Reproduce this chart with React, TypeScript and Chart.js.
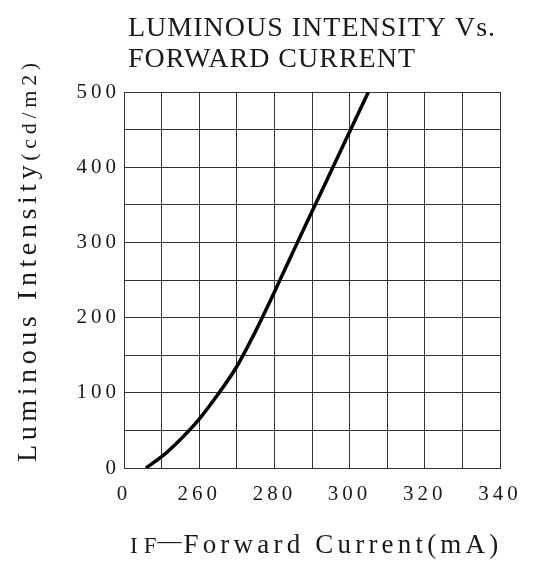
import React, { useEffect, useRef } from 'react';
import { Chart, registerables } from 'chart.js';

Chart.register(...registerables);

// Data
const currentMA = [245.8, 250, 255, 260, 265, 270, 275, 280, 285, 290, 295, 300, 305];
const intensity = [0, 15, 38, 65, 98, 135, 182, 234, 288, 341, 394, 447, 500];

// Axis ticks (the x axis is broken: its first label reads "0")
const xTickValues = [240, 260, 280, 300, 320, 340];
const xTickLabels = ['0', '260', '280', '300', '320', '340'];
const yTickValues = [0, 100, 200, 300, 400, 500];
const yTickLabels = ['0', '100', '200', '300', '400', '500'];

// Texts
const titleLines = ['LUMINOUS INTENSITY Vs.', 'FORWARD CURRENT'];
const yTitleMain = 'Luminous Intensity';
const yTitleUnit = '(cd/m2)';
const xTitleSymbol = 'IF';
const xTitleDash = '—';
const xTitleMain = 'Forward Current(mA)';

const FONT = '"Liberation Serif", "DejaVu Serif", serif';
const INK = '#1a1a1a';

const textPlugin = {
  id: 'plotterText',
  beforeDraw(chart: any) {
    (chart.ctx as any).letterSpacing = '4px';
  },
  afterDraw(chart: any) {
    const ctx = chart.ctx as any;
    ctx.save();
    ctx.fillStyle = INK;
    ctx.textAlign = 'left';
    ctx.textBaseline = 'alphabetic';

    // Title
    ctx.font = `28px ${FONT}`;
    ctx.letterSpacing = '1px';
    ctx.fillText(titleLines[0], 128, 36);
    ctx.fillText(titleLines[1], 128, 67);

    // X axis title
    let x = 130;
    const base = 553;
    ctx.font = `23px ${FONT}`;
    ctx.letterSpacing = '6px';
    ctx.fillText(xTitleSymbol, x, base);
    x += ctx.measureText(xTitleSymbol).width - 5;
    ctx.font = `24px ${FONT}`;
    ctx.letterSpacing = '0px';
    ctx.fillText(xTitleDash, x, base - 5);
    x += ctx.measureText(xTitleDash).width + 2;
    ctx.font = `27px ${FONT}`;
    ctx.letterSpacing = '4.2px';
    ctx.fillText(xTitleMain, x, base);

    // Y axis title (rotated)
    ctx.save();
    ctx.translate(36, 462);
    ctx.rotate(-Math.PI / 2);
    ctx.font = `28px ${FONT}`;
    ctx.letterSpacing = '4.6px';
    ctx.fillText(yTitleMain, 0, 0);
    const w = ctx.measureText(yTitleMain).width;
    ctx.font = `22px ${FONT}`;
    ctx.letterSpacing = '4.7px';
    ctx.fillText(yTitleUnit, w, 0);
    ctx.restore();

    ctx.restore();
    ctx.letterSpacing = '0px';
  },
};

export default function App() {
  const canvasRef = useRef<HTMLCanvasElement | null>(null);

  useEffect(() => {
    if (!canvasRef.current) return;
    const points = currentMA.map((c, i) => ({ x: c, y: intensity[i] }));
    const chart = new Chart(canvasRef.current, {
      type: 'line',
      data: {
        datasets: [
          {
            data: points,
            borderColor: '#000',
            borderWidth: 3.5,
            pointRadius: 0,
            cubicInterpolationMode: 'monotone',
            fill: false,
          },
        ],
      },
      options: {
        animation: false,
        responsive: false,
        layout: { padding: { top: 92, right: 33, left: 0, bottom: 0 } },
        plugins: {
          legend: { display: false },
          tooltip: { enabled: false },
          title: { display: false },
        },
        scales: {
          x: {
            type: 'linear',
            min: 240,
            max: 340,
            afterFit: (s: any) => {
              s.height = 94;
            },
            ticks: {
              stepSize: 10,
              autoSkip: false,
              maxRotation: 0,
              padding: 14,
              color: INK,
              font: { family: FONT, size: 21 },
              callback: (v: any) => {
                const i = xTickValues.indexOf(Number(v));
                return i >= 0 ? xTickLabels[i] : '';
              },
            },
            grid: { color: '#333', lineWidth: 1, drawTicks: false },
            border: { color: '#333', width: 1 },
          },
          y: {
            type: 'linear',
            min: 0,
            max: 500,
            afterFit: (s: any) => {
              s.width = 124;
            },
            ticks: {
              stepSize: 50,
              autoSkip: false,
              padding: 4,
              color: INK,
              font: { family: FONT, size: 21 },
              callback: (v: any) => {
                const i = yTickValues.indexOf(Number(v));
                return i >= 0 ? yTickLabels[i] : '';
              },
            },
            grid: { color: '#333', lineWidth: 1, drawTicks: false },
            border: { color: '#333', width: 1 },
          },
        },
      },
      plugins: [textPlugin],
    });
    return () => chart.destroy();
  }, []);

  return (
    <div style={{ position: 'absolute', left: 0, top: 0, width: 533, height: 562, background: '#fff' }}>
      <canvas ref={canvasRef} width={533} height={562} />
    </div>
  );
}
